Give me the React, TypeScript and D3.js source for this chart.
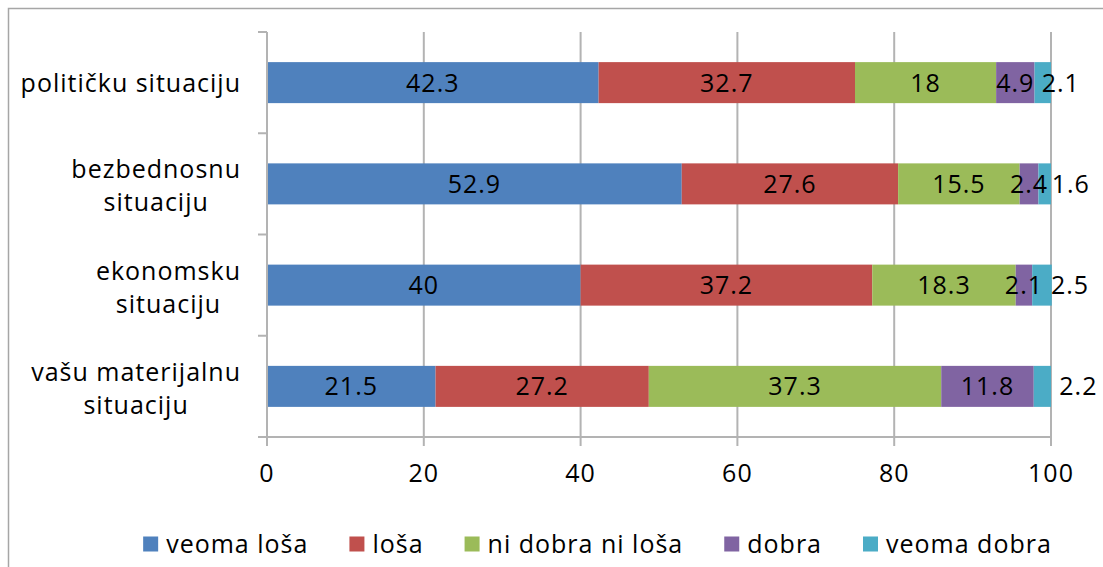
import React, { useEffect, useRef } from "react";
import * as d3 from "d3";

const categories = [
  ["političku situaciju"],
  ["bezbednosnu", "situaciju"],
  ["ekonomsku", "situaciju"],
  ["vašu materijalnu", "situaciju"],
];

const seriesNames = ["veoma loša", "loša", "ni dobra ni loša", "dobra", "veoma dobra"];
const veomaLosa = [42.3, 52.9, 40, 21.5];
const losa = [32.7, 27.6, 37.2, 27.2];
const niDobraNiLosa = [18, 15.5, 18.3, 37.3];
const dobra = [4.9, 2.4, 2.1, 11.8];
const veomaDobra = [2.1, 1.6, 2.5, 2.2];
const xTicks = [0, 20, 40, 60, 80, 100];

const colors = ["#4F81BD", "#C0504D", "#9BBB59", "#8064A2", "#4BACC6"];
// manual offsets for the last label in each row (as positioned in the source)
const lastLabelShift = [18, 26, 28, 36];

const W = 1103;
const H = 567;
const FONT = "'Century Gothic', 'URW Gothic', 'Open Sans', sans-serif";
const FS = 25;
const LS = 1;

export default function App() {
  const ref = useRef<SVGSVGElement | null>(null);

  useEffect(() => {
    const svg = d3.select(ref.current);
    svg.selectAll("*").remove();

    const series = [veomaLosa, losa, niDobraNiLosa, dobra, veomaDobra];
    const left = 267, right = 1051, top = 32, bottom = 437;
    const x = d3.scaleLinear().domain([0, 100]).range([left, right]);
    const y = d3
      .scaleBand<number>()
      .domain(d3.range(categories.length))
      .range([top, bottom])
      .paddingInner(0.595)
      .paddingOuter(0.2975);
    const band = d3.scaleBand<number>().domain(d3.range(categories.length)).range([top, bottom]);

    const txt = (sel: any) =>
      sel
        .attr("font-family", FONT)
        .attr("font-size", FS)
        .attr("letter-spacing", LS)
        .attr("fill", "#000");

    svg
      .append("rect")
      .attr("x", 8.5)
      .attr("y", 8.5)
      .attr("width", W + 10)
      .attr("height", H + 10)
      .attr("fill", "white")
      .attr("stroke", "#A6A6A6")
      .attr("stroke-width", 1.5);

    const grid = "#B3B3B3";
    svg
      .append("g")
      .selectAll("line")
      .data(xTicks.slice(1))
      .join("line")
      .attr("x1", (d) => x(d))
      .attr("x2", (d) => x(d))
      .attr("y1", top)
      .attr("y2", bottom)
      .attr("stroke", grid)
      .attr("stroke-width", 2);

    const stackData = categories.map((_, i) => {
      const o: any = { i };
      series.forEach((s, k) => (o[k] = s[i]));
      return o;
    });
    const stack = d3.stack<any>().keys(d3.range(series.length) as any)(stackData);

    stack.forEach((layer, k) => {
      svg
        .append("g")
        .selectAll("rect")
        .data(layer)
        .join("rect")
        .attr("x", (d) => x(d[0]))
        .attr("width", (d) => x(d[1]) - x(d[0]))
        .attr("y", (d) => y(d.data.i)!)
        .attr("height", y.bandwidth())
        .attr("fill", colors[k]);
    });

    svg
      .append("line")
      .attr("x1", left)
      .attr("x2", left)
      .attr("y1", top)
      .attr("y2", bottom)
      .attr("stroke", grid)
      .attr("stroke-width", 2);
    svg
      .append("line")
      .attr("x1", left - 9)
      .attr("x2", right)
      .attr("y1", bottom)
      .attr("y2", bottom)
      .attr("stroke", grid)
      .attr("stroke-width", 2);
    const yb = d3.range(categories.length + 1).map((i) => (i < categories.length ? band(i)! : bottom));
    svg
      .append("g")
      .selectAll("line")
      .data(yb)
      .join("line")
      .attr("x1", left - 9)
      .attr("x2", left)
      .attr("y1", (d) => d)
      .attr("y2", (d) => d)
      .attr("stroke", grid)
      .attr("stroke-width", 2);
    svg
      .append("g")
      .selectAll("line")
      .data(xTicks)
      .join("line")
      .attr("x1", (d) => x(d))
      .attr("x2", (d) => x(d))
      .attr("y1", bottom)
      .attr("y2", bottom + 9)
      .attr("stroke", grid)
      .attr("stroke-width", 2);

    svg
      .append("g")
      .selectAll("text")
      .data(xTicks)
      .join("text")
      .attr("x", (d) => x(d))
      .attr("y", 473)
      .attr("dy", "0.36em")
      .attr("text-anchor", "middle")
      .call(txt)
      .text((d) => String(d));

    const labelRight = 241;
    const lineH = 33;
    categories.forEach((lines, i) => {
      const cy = band(i)! + band.bandwidth() / 2 + (lines.length > 1 ? 2 : 0);
      const g = svg.append("g");
      const texts = lines.map((ln, j) =>
        g
          .append("text")
          .attr("y", cy + (j - (lines.length - 1) / 2) * lineH)
          .attr("dy", "0.36em")
          .attr("text-anchor", "middle")
          .call(txt)
          .text(ln)
      );
      const maxW = d3.max(texts, (t) => (t.node() as SVGTextElement).getComputedTextLength()) || 0;
      texts.forEach((t) => t.attr("x", labelRight - maxW / 2));
    });

    stack.forEach((layer, k) => {
      svg
        .append("g")
        .selectAll("text")
        .data(layer)
        .join("text")
        .attr("x", (d) => {
          const mid = (x(d[0]) + x(d[1])) / 2;
          return k === series.length - 1 ? mid + lastLabelShift[d.data.i] : mid;
        })
        .attr("y", (d) => y(d.data.i)! + y.bandwidth() / 2)
        .attr("dy", "0.36em")
        .attr("text-anchor", "middle")
        .call(txt)
        .text((d) => String(+(d[1] - d[0]).toFixed(1)));
    });

    const lg = svg.append("g");
    const sq = 15;
    const gapSq = 8;
    const gapItem = 41;
    let cx = 0;
    seriesNames.forEach((name, k) => {
      const it = lg.append("g").attr("transform", `translate(${cx},0)`);
      it.append("rect").attr("x", 0).attr("y", -sq / 2).attr("width", sq).attr("height", sq).attr("fill", colors[k]);
      const t = it
        .append("text")
        .attr("x", sq + gapSq)
        .attr("dy", "0.36em")
        .call(txt)
        .text(name);
      const w = (t.node() as SVGTextElement).getComputedTextLength();
      cx += sq + gapSq + w + gapItem;
    });
    const total = cx - gapItem;
    lg.attr("transform", `translate(${597.5 - total / 2},544)`);
  }, []);

  return (
    <svg
      ref={ref}
      width={W}
      height={H}
      style={{ position: "absolute", left: 0, top: 0, display: "block" }}
    />
  );
}
